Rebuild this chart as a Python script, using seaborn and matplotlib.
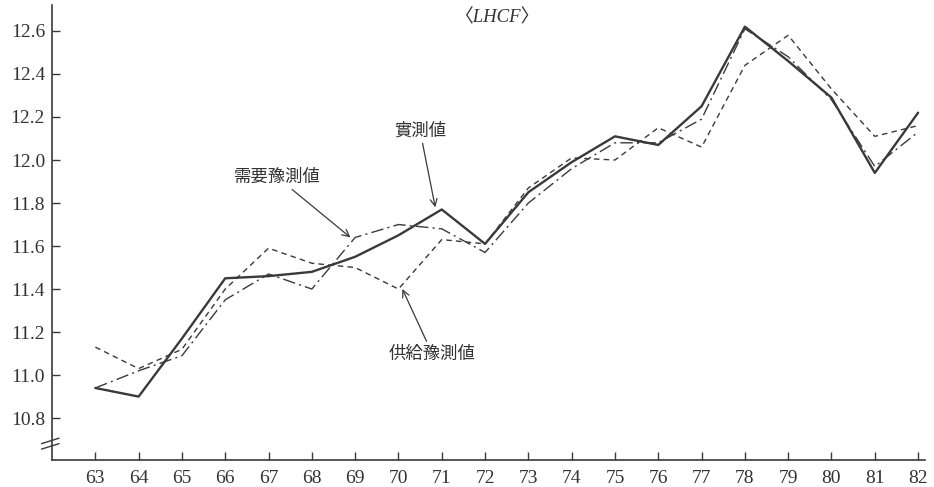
import numpy as np
import pandas as pd
import matplotlib
matplotlib.use("Agg")
import matplotlib.pyplot as plt
import seaborn as sns

# Data
years = [63, 64, 65, 66, 67, 68, 69, 70, 71, 72, 73, 74, 75, 76, 77, 78, 79, 80, 81, 82]
actual = [10.94, 10.90, 11.17, 11.45, 11.46, 11.48, 11.55, 11.65, 11.77, 11.61,
          11.85, 11.99, 12.11, 12.07, 12.25, 12.62, 12.46, 12.29, 11.94, 12.22]
demand = [10.94, 11.02, 11.09, 11.35, 11.47, 11.40, 11.64, 11.70, 11.68, 11.57,
          11.80, 11.96, 12.08, 12.08, 12.19, 12.61, 12.48, 12.28, 11.97, 12.13]
supply = [11.13, 11.03, 11.12, 11.40, 11.59, 11.52, 11.50, 11.40, 11.63, 11.61,
          11.87, 12.01, 12.00, 12.15, 12.06, 12.44, 12.58, 12.33, 12.11, 12.16]
y_ticks = [10.8, 11.0, 11.2, 11.4, 11.6, 11.8, 12.0, 12.2, 12.4, 12.6]

df = pd.DataFrame({'year': years, 'actual': actual, 'demand': demand, 'supply': supply})

sns.set_style('white')
plt.rcParams['font.family'] = ['Liberation Serif', 'Noto Sans CJK JP', 'DejaVu Sans']
jp = ['Noto Sans CJK JP', 'DejaVu Sans']
ink = '#3a3a3a'

fig = plt.figure(figsize=(9.34, 4.87), dpi=100)
ax = fig.add_axes([0.0557, 0.0554, 0.9347, 0.934])

# Three series: solid = actual, dash-dot = demand forecast, dashed = supply forecast
sns.lineplot(data=df, x='year', y='actual', ax=ax, color=ink, lw=1.7)
sns.lineplot(data=df, x='year', y='demand', ax=ax, color=ink, lw=1.0)
ax.lines[-1].set_dashes([9, 3, 1.5, 3])
sns.lineplot(data=df, x='year', y='supply', ax=ax, color=ink, lw=1.0)
ax.lines[-1].set_dashes([4, 3])

ax.set_xlim(62.0, 82.16)
ax.set_ylim(10.605, 12.72)
ax.set_xticks(years)
ax.set_xticklabels([str(y) for y in years])
ax.set_yticks(y_ticks)
ax.set_yticklabels([f'{v:.1f}' for v in y_ticks])
ax.set_xlabel('')
ax.set_ylabel('')
ax.tick_params(axis='both', direction='in', length=6, width=1, color=ink,
               labelsize=14, labelcolor='#333333', bottom=True, left=True)
ax.tick_params(axis='x', pad=7)
ax.tick_params(axis='y', pad=5)
for s in ['top', 'right']:
    ax.spines[s].set_visible(False)
for s in ['left', 'bottom']:
    ax.spines[s].set_color(ink)
    ax.spines[s].set_linewidth(1.2)

# axis break mark on the y axis
for dy in (0.0, 0.012):
    ax.plot([-0.012, 0.008], [0.024 + dy, 0.036 + dy], transform=ax.transAxes,
            color=ink, lw=1.0, clip_on=False)

# title and labels
ax.text(72.28, 12.66, '〈LHCF〉', ha='center', va='center', fontsize=13.5,
        style='italic', color='#333333')
arrow = dict(arrowstyle='->', color=ink, lw=0.9, shrinkA=0, shrinkB=0)
ax.annotate('實測値', xy=(70.85, 11.78), xytext=(70.5, 12.135), ha='center', va='center',
            fontsize=12.5, family=jp, color='#333333', arrowprops=arrow)
ax.annotate('需要豫測値', xy=(68.89, 11.64), xytext=(67.2, 11.92), ha='center', va='center',
            fontsize=12.5, family=jp, color='#333333', arrowprops=arrow)
ax.annotate('供給豫測値', xy=(70.09, 11.40), xytext=(70.78, 11.10), ha='center', va='center',
            fontsize=12.5, family=jp, color='#333333', arrowprops=arrow)

fig.savefig('out.png', dpi=100)
